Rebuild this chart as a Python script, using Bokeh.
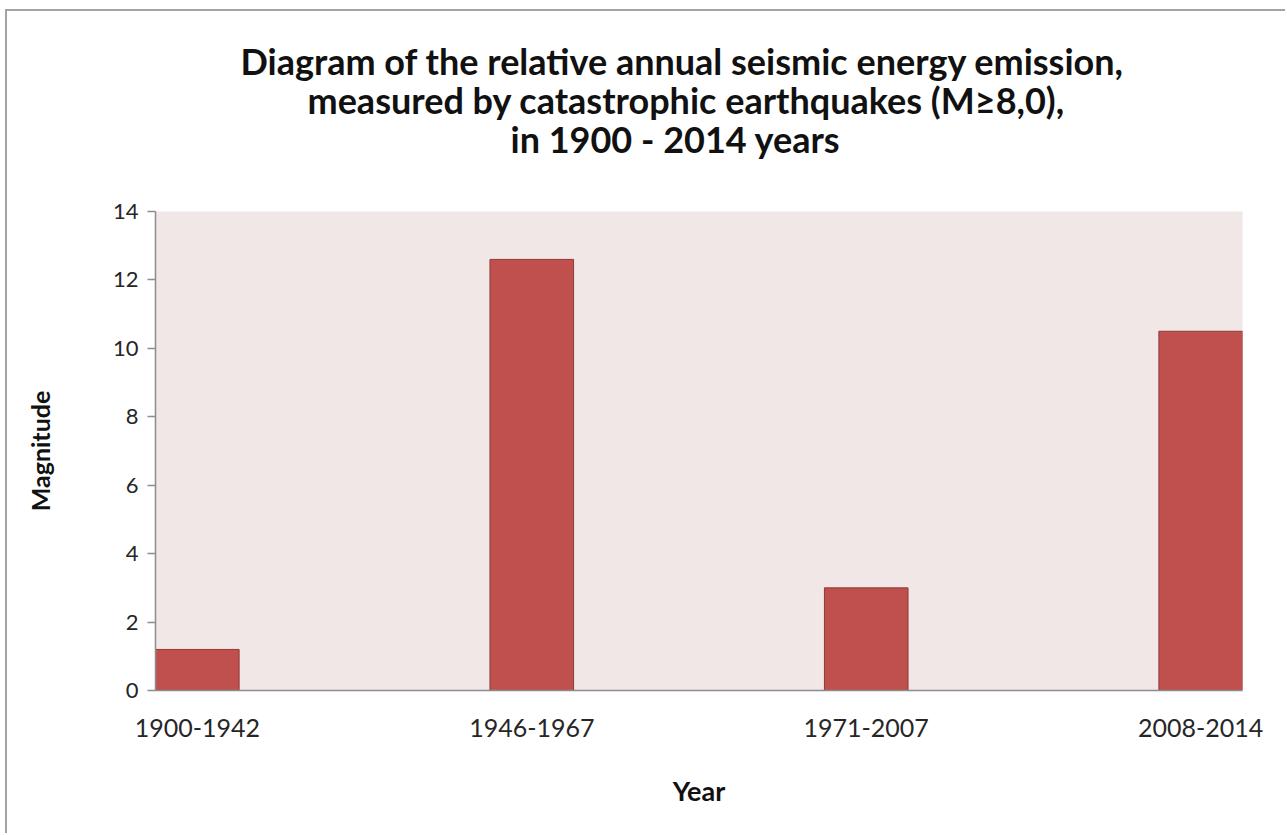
from bokeh.plotting import figure
from bokeh.models import FixedTicker, Range1d, Title
from bokeh.embed import file_html
from bokeh.resources import INLINE

# Chart data
periods = ["1900-1942", "1946-1967", "1971-2007", "2008-2014"]
magnitude = [1.2, 12.6, 3.0, 10.5]
y_ticks = [0, 2, 4, 6, 8, 10, 12, 14]
title_lines = [
    "Diagram of the relative annual seismic energy emission,",
    "measured by catastrophic earthquakes (M\u22658,0),",
    "in 1900 - 2014 years",
]

FONT = "Lato"
BAR_W = 0.25
positions = list(range(len(periods)))

# page offset of the chart box (grey border drawn on its left/top edge)
OFF_X, OFF_Y, BORDER = 5, 9, 2
W, H = 1287 - OFF_X - BORDER, 835 - OFF_Y - BORDER
LEFT = 155 - OFF_X - BORDER
TOP = 211 - OFF_Y - BORDER
RIGHT, BOTTOM = 45, 145

p = figure(
    width=W, height=H,
    output_backend="svg", toolbar_location=None,
    x_range=Range1d(-BAR_W / 2, len(periods) - 1 + BAR_W / 2),
    y_range=Range1d(0, 14),
    min_border_left=LEFT, min_border_right=RIGHT,
    min_border_top=TOP, min_border_bottom=BOTTOM,
)
p.styles = {
    "margin-left": f"{OFF_X}px",
    "margin-top": f"{OFF_Y}px",
    "border-left": f"{BORDER}px solid #A3A3A3",
    "border-top": f"{BORDER}px solid #A3A3A3",
}
p.background_fill_color = "#F2E7E7"
p.border_fill_color = "white"
p.outline_line_color = None
p.grid.visible = False

p.vbar(x=positions, top=magnitude, width=BAR_W,
       fill_color="#C0504D", line_color="#8C3A38", line_width=1)

# y axis
ya = p.yaxis[0]
ya.ticker = FixedTicker(ticks=y_ticks)
ya.minor_tick_line_color = None
ya.major_tick_in = 0
ya.major_tick_out = 8
ya.axis_line_color = "#8C8C8C"
ya.axis_line_width = 1.5
ya.major_tick_line_color = "#8C8C8C"
ya.major_tick_line_width = 1.5
ya.major_label_text_font = FONT
ya.major_label_text_font_size = "22px"
ya.major_label_text_color = "#262626"
ya.major_label_standoff = 9
ya.axis_label = "Magnitude"
ya.axis_label_text_font = FONT
ya.axis_label_text_font_style = "bold"
ya.axis_label_text_font_size = "25px"
ya.axis_label_text_color = "#111111"
ya.axis_label_standoff = 55

# x axis
xa = p.xaxis[0]
xa.ticker = FixedTicker(ticks=positions)
xa.major_label_overrides = {i: s for i, s in zip(positions, periods)}
xa.minor_tick_line_color = None
xa.major_tick_line_color = None
xa.major_tick_in = 0
xa.major_tick_out = 0
xa.axis_line_color = "#8C8C8C"
xa.axis_line_width = 1.5
xa.major_label_text_font = FONT
xa.major_label_text_font_size = "25px"
xa.major_label_text_color = "#262626"
xa.major_label_standoff = 28
xa.axis_label = "Year"
xa.axis_label_text_font = FONT
xa.axis_label_text_font_style = "bold"
xa.axis_label_text_font_size = "27px"
xa.axis_label_text_color = "#111111"
xa.axis_label_standoff = 34

# blank spacer between the plot frame and the chart title
p.add_layout(Title(text=" ", text_font_size="46px", standoff=0), "above")

# chart title: one Title per line, innermost (last line) added first;
# offsets are left indents from the frame's left edge
title_offsets = [85, 152, 355]
for txt, off in reversed(list(zip(title_lines, title_offsets))):
    p.add_layout(Title(
        text=txt, align="left", offset=off, standoff=-7,
        text_font=FONT, text_font_style="bold", text_font_size="36px",
        text_color="#111111",
    ), "above")

open("out.html", "w").write(file_html(p, INLINE))
